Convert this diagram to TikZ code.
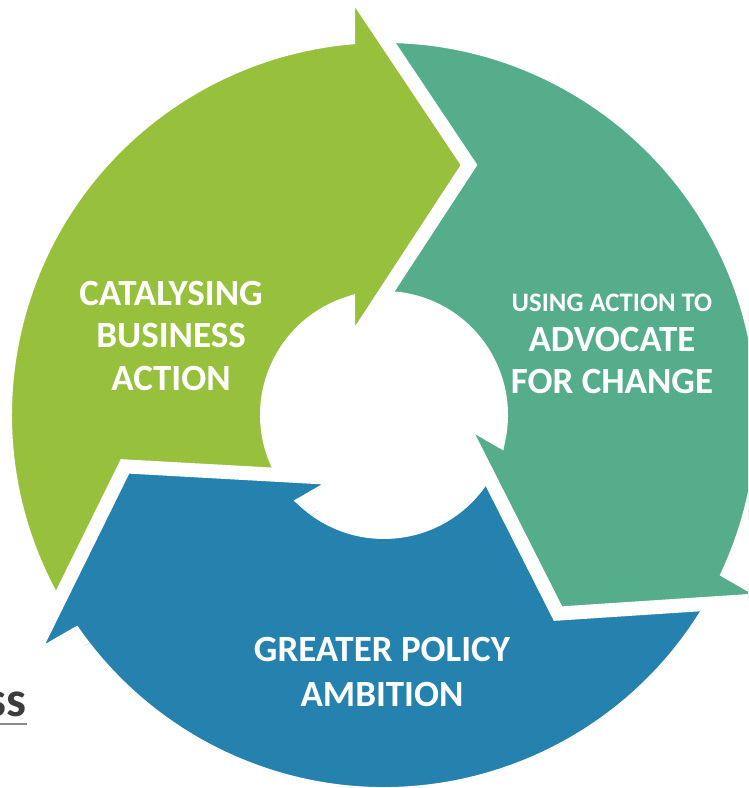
\documentclass[tikz,border=0pt]{standalone}
\usepackage{fontspec}
\setmainfont{Carlito}
\definecolor{cgreen}{HTML}{97C13D}
\definecolor{cteal}{HTML}{56AD8B}
\definecolor{cblue}{HTML}{2581AD}
\definecolor{ssgray}{HTML}{3C3C3C}
\definecolor{ulgray}{HTML}{8A8A8A}
\newcommand\cyclearrow[3]{%
  \begin{scope}[shift={(384pt,373pt)}, rotate=#1]
    #3
    \path[fill=#2, ringedge]
      (215.45:379pt) arc[start angle=215.45, end angle=95.45, radius=379pt]
      -- (-36pt,431pt) -- (85pt,250pt) -- (-36pt,65pt)
      -- (107.92:117pt) arc[start angle=107.92, end angle=227.92, radius=117pt]
      -- cycle;
  \end{scope}}
\begin{document}
\begin{tikzpicture}[x=1pt,y=1pt]
\tikzset{
  ringedge/.style={draw=white, line width=14pt, line join=miter, miter limit=10},
  lbl/.style={text=white, font=\bfseries\fontsize{37}{44}\selectfont, anchor=base, inner sep=0pt},
  lblsmall/.style={lbl, font=\bfseries\fontsize{26.7}{30}\selectfont},
  lblblue/.style={lbl, font=\bfseries\fontsize{37}{44}\selectfont}
}
\useasboundingbox (0,0) rectangle (748,788);
\clip (0,0) rectangle (748,788);
\fill[white] (0,0) rectangle (748,788);
% arrows: blue, teal, green, then blue head on top
\cyclearrow{120}{cblue}{}
\cyclearrow{-120}{cteal}{}
\cyclearrow{0}{cgreen}{}
\cyclearrow{120}{cblue}{\clip (-50pt,0pt) rectangle (250pt,500pt);}
% labels
\node[lbl] (g1) at (171,482) {CATALYSING};
\node[lbl] (g2) at (171,440) {BUSINESS};
\node[lbl] (g3) at (171,397) {ACTION};
\node[lblsmall] (t1) at (612,476) {USING ACTION TO};
\node[lbl] (t2) at (612,436) {ADVOCATE};
\node[lbl] (t3) at (612,394) {FOR CHANGE};
\node[lblblue] (b1) at (382,126) {GREATER POLICY};
\node[lblblue] (b2) at (382,81) {AMBITION};
% cut-off word at left
\node[anchor=base east, inner sep=0pt, text=ssgray, font=\bfseries\fontsize{50}{60}\selectfont] (ss) at (27,71) {ss};
\draw[ulgray, line width=1.5pt] ([yshift=-7pt]ss.base west) -- ([yshift=-7pt]ss.base east);
\end{tikzpicture}
\end{document}
